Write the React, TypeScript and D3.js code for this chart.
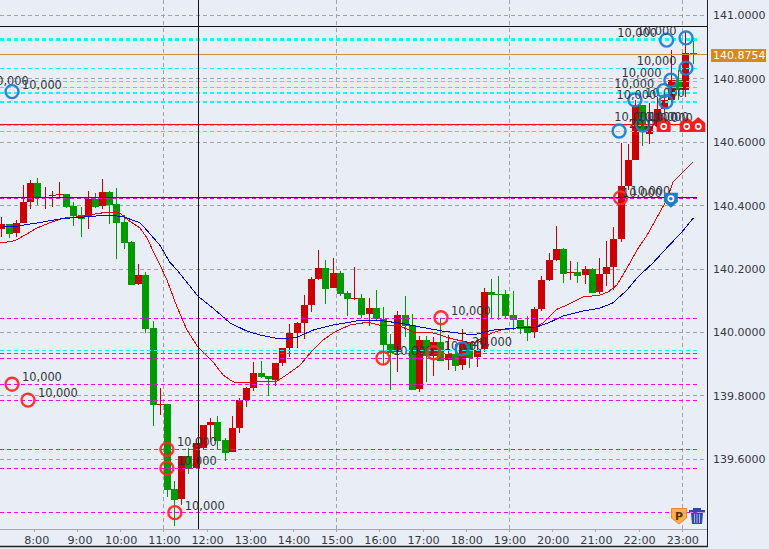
import React from "react";
import * as d3 from "d3";

const opens = [
  140.329,140.344,140.315,140.347,140.414,140.473,140.427,140.432,140.435,140.438,
  140.400,140.372,140.365,140.423,140.401,140.444,140.406,140.350,140.287,140.155,
  140.183,140.017,139.774,139.778,139.510,139.479,139.614,139.576,139.639,139.712,
  139.721,139.664,139.627,139.702,139.790,139.828,139.875,139.866,139.853,139.907,
  139.954,140.001,140.032,140.089,140.171,140.205,140.142,140.190,140.127,140.108,
  140.111,140.061,140.079,140.045,139.966,139.941,140.057,140.026,139.825,139.979,
  139.929,139.973,139.916,139.935,139.900,139.973,139.925,139.950,140.130,140.124,
  140.124,140.057,140.042,140.023,140.004,140.076,140.168,140.230,140.265,140.190,
  140.193,140.183,140.202,140.130,140.186,140.208,140.296,140.463,140.545,140.718,
  140.627,140.652,140.705,140.734,140.796,140.765,140.881,
];
const highs = [
  140.367,140.344,140.356,140.466,140.482,140.488,140.460,140.447,140.476,140.438,
  140.413,140.397,140.447,140.441,140.485,140.447,140.457,140.372,140.290,140.218,
  140.193,140.039,139.828,139.778,139.535,139.614,139.639,139.668,139.712,139.734,
  139.740,139.671,139.740,139.796,139.831,139.910,139.913,139.866,139.907,139.954,
  140.029,140.035,140.120,140.177,140.262,140.230,140.237,140.196,140.133,140.208,
  140.124,140.111,140.136,140.083,139.998,140.070,140.117,140.061,139.991,139.991,
  139.988,140.048,139.995,139.966,140.013,139.973,139.979,140.142,140.171,140.180,
  140.136,140.133,140.042,140.054,140.083,140.180,140.252,140.337,140.268,140.227,
  140.224,140.212,140.205,140.237,140.290,140.334,140.598,140.595,140.734,140.718,
  140.724,140.743,140.756,140.891,140.828,140.947,140.922,
];
const lows = [
  140.304,140.301,140.303,140.347,140.392,140.404,140.392,140.398,140.429,140.394,
  140.337,140.303,140.328,140.394,140.391,140.344,140.234,140.265,140.152,140.152,
  140.001,139.708,139.743,139.485,139.394,139.460,139.557,139.573,139.636,139.658,
  139.633,139.598,139.627,139.686,139.768,139.818,139.859,139.803,139.834,139.897,
  139.925,139.954,139.982,140.067,140.168,140.092,140.142,140.117,140.054,140.105,
  140.048,140.023,140.039,139.903,139.822,139.878,139.988,139.822,139.815,139.847,
  139.866,139.913,139.885,139.881,139.885,139.891,139.894,139.941,140.045,140.042,
  140.045,140.010,139.998,139.976,139.985,140.070,140.164,140.227,140.158,140.168,
  140.158,140.155,140.127,140.124,140.149,140.136,140.287,140.451,140.545,140.589,
  140.595,140.652,140.693,140.724,140.734,140.743,140.847,
];
const closes = [
  140.344,140.313,140.347,140.413,140.473,140.425,140.430,140.435,140.438,140.398,
  140.369,140.360,140.423,140.398,140.444,140.403,140.347,140.284,140.152,140.183,
  140.013,139.775,139.778,139.507,139.476,139.614,139.574,139.655,139.712,139.721,
  139.661,139.623,139.702,139.790,139.828,139.875,139.862,139.856,139.907,139.954,
  140.001,140.032,140.089,140.171,140.205,140.139,140.190,140.124,140.108,140.111,
  140.057,140.079,140.045,139.963,139.938,140.057,140.023,139.822,139.979,139.929,
  139.973,139.913,139.935,139.897,139.973,139.922,139.947,140.130,140.120,140.120,
  140.054,140.042,140.013,140.001,140.076,140.168,140.230,140.265,140.186,140.193,
  140.180,140.202,140.127,140.186,140.208,140.296,140.463,140.545,140.718,140.633,
  140.652,140.705,140.734,140.796,140.765,140.881,140.875,
];

const fastBars = [-0.18,1.9,3.3,4.96,6.76,8.57,10.93,13,14.68,16.49,17.6,19.26,20.24,21.35,22.04,23,24.4,25.8,27.3,29.4,30.8,32.2,34.1,35.9,38.3,39.8,41.5,42.9,44.7,46.3,48.4,50.9,53,55.4,57.2,60,62.7,65.5,67.5,69.3,72,74.1,75.2,77.2,78.6,80.8,83.1,84.3,85.5,86.9,88.3,89.7,91.1,92.4,93.3,96.1];
const fastMA = [140.284,140.291,140.309,140.331,140.348,140.362,140.367,140.375,140.381,140.378,140.356,140.331,140.300,140.246,140.215,140.168,140.083,140.010,139.957,139.910,139.869,139.847,139.844,139.848,139.850,139.872,139.900,139.938,139.979,140.004,140.026,140.035,140.023,140.023,140.004,140.001,139.982,139.969,139.995,140.010,140.018,140.020,140.032,140.076,140.089,140.114,140.120,140.130,140.152,140.205,140.262,140.309,140.366,140.419,140.476,140.539];
const slowBars = [-0.18,1.6,3,5.8,7.9,9.8,12.3,14.7,16.9,19.3,20.4,22,23.4,24.4,27.3,29.4,31.8,34.1,35.9,38.7,41.1,43.3,46.1,49.4,53,55.4,58.1,61.3,65.5,68.3,71.6,74.4,76.2,78,80.8,83.1,84.9,86.9,88.4,90.5,92.4,94.5,96.1];
const slowMA = [140.334,140.335,140.340,140.350,140.359,140.363,140.367,140.372,140.367,140.347,140.319,140.278,140.224,140.199,140.117,140.079,140.032,140.007,139.995,139.982,139.988,140.010,140.026,140.039,140.039,140.032,140.020,140.007,139.995,140.010,140.017,140.020,140.035,140.054,140.070,140.079,140.095,140.136,140.177,140.221,140.268,140.318,140.362];

const priceTicks = [141, 140.8, 140.6, 140.4, 140.2, 140, 139.8, 139.6];
const hourTicks = [8,9,10,11,12,13,14,15,16,17,18,19,20,21,22,23];
const gridHours = [11,15,19,23];

const cyanThin = [140.833,140.793,140.773,140.653,140.635,139.947];
const cyanThick = [140.927,140.921,140.756,140.727];
const magentaLines = [140.424,140.046,139.936,139.922,139.840,139.790,139.635,139.576,139.436];
const redLevel = 140.656;
const purpleLevel = 140.426;
const currentPrice = 140.8754;
const blackLevel = 140.966;
const crossHour = 11.80;

const blueBars = [1.49,88,89.1,85.8,92,92.3,92.4,93,95.1,95.1,64];
const bluePrices = [140.760,140.734,140.655,140.636,140.763,140.728,140.922,140.796,140.929,140.834,139.951];
const blueLabels = ["10,000","10,000","10,000","20,000","10,000","10,000","10,000","10,000","10,000","10,000","20,000"];
const blueFlip = [false,false,false,false,true,true,true,true,true,true,false];
const redBars = [1.49,3.71,23,23,24.1,61.07,53,60.06,86];
const redPrices = [139.840,139.790,139.635,139.576,139.436,140.049,139.922,139.939,140.426];
const redLabels = ["10,000","10,000","10,000","10,000","10,000","10,000","10,000","10,000","10,000"];
const houseBars = [92,95.2,96.8];
const housePrice = 140.655;
const shieldBar = 93;
const shieldPrice = 140.42;
const ghostBar = -3.1;
const ghostPrice = 140.771;

const W = 769, H = 549, R = 707, AX = 529;
const BG = "#e9edf5", GREEN = "#009900", RED = "#cc0000", GRID = "#a3a3a3";
const FONT = "'DejaVu Sans', sans-serif";

const y = d3.scaleLinear().domain([141, 139.6]).range([15.3, 460.5]);
const yAxis = d3.scaleLinear().domain([141, 139.6]).range([15.3, 459.3]);
const xb = d3.scaleLinear().domain([0, 96]).range([1.3, 692.5]);
const xh = d3.scaleLinear().domain([8, 23]).range([34.3, 682.3]);
const X_END = xb(96.6);
const snap = (v: number) => Math.floor(v) + 0.5;

const lineGen = d3.line<[number, number]>().x(d => xb(d[0])).y(d => y(d[1]));
const zip = (a: number[], b: number[]) => a.map((v, i) => [v, b[i]] as [number, number]);

function HLine({ p, color, width = 1, dash, end = X_END }: { p: number; color: string; width?: number; dash?: string; end?: number }) {
  const yy = width % 2 ? snap(y(p)) : Math.round(y(p));
  return <line x1={0} x2={end} y1={yy} y2={yy} stroke={color} strokeWidth={width} strokeDasharray={dash} shapeRendering="crispEdges" />;
}

function Marker({ bar, p, color, label, flip }: { bar: number; p: number; color: string; label: string; flip?: boolean }) {
  const cx = xb(bar), cy = y(p);
  return (
    <g>
      <circle cx={cx} cy={cy} r={6.5} fill="none" stroke={color} strokeWidth={2.4} opacity={0.95} />
      <text x={flip ? cx - 9.5 : cx + 10} y={cy - 3} textAnchor={flip ? "end" : "start"} fontSize={11.4} fontFamily={FONT} fill="#30343c">{label}</text>
    </g>
  );
}

export default function App() {
  return (
    <svg width={W} height={H} style={{ position: "fixed", left: 0, top: 0, background: BG, display: "block" }}>
      <rect width={W} height={H} fill={BG} />
      {priceTicks.map(t => <line key={t} x1={0} x2={R} y1={snap(yAxis(t))} y2={snap(yAxis(t))} stroke={GRID} strokeDasharray="4 3" shapeRendering="crispEdges" />)}
      {gridHours.map(h => <line key={h} x1={snap(xh(h))} x2={snap(xh(h))} y1={0} y2={AX} stroke={GRID} strokeDasharray="4 3" shapeRendering="crispEdges" />)}

      {opens.map((o, i) => {
        const c = closes[i], col = c >= o ? RED : GREEN;
        const cx = Math.round(xb(i));
        const top = Math.round(y(Math.max(o, c))), bot = Math.round(y(Math.min(o, c)));
        return (
          <g key={i} shapeRendering="crispEdges">
            <line x1={cx + 0.5} x2={cx + 0.5} y1={y(highs[i])} y2={y(lows[i])} stroke={col} />
            <rect x={cx - 3} y={top} width={7} height={Math.max(1, bot - top)} fill={col} />
          </g>
        );
      })}

      <path d={lineGen(zip(fastBars, fastMA)) || ""} fill="none" stroke="#f00000" shapeRendering="crispEdges" />
      <path d={lineGen(zip(slowBars, slowMA)) || ""} fill="none" stroke="#0000e0" shapeRendering="crispEdges" />

      {magentaLines.map(p => <HLine key={p} p={p} color="#ff00ff" dash="4 3" />)}
      {cyanThin.map(p => <HLine key={p} p={p} color="#00ffff" dash="4 3" />)}
      {cyanThick.map(p => <HLine key={p} p={p} color="#00ffff" width={2} dash="4 3" />)}
      <HLine p={redLevel} color="#ff0000" />
      <HLine p={purpleLevel} color="#3c00c8" width={1} />
      <HLine p={currentPrice} color="#c89040" end={R} />
      <HLine p={blackLevel} color="#111111" end={R} />
      <line x1={snap(xh(crossHour))} x2={snap(xh(crossHour))} y1={0} y2={AX} stroke="#111111" shapeRendering="crispEdges" />

      <line x1={0} x2={R} y1={AX + 0.5} y2={AX + 0.5} stroke="#a8a8a8" strokeWidth={1} />
      {hourTicks.map(h => (
        <g key={h}>
          <line x1={snap(xh(h))} x2={snap(xh(h))} y1={AX} y2={AX + 3} stroke="#a8a8a8" />
          <text x={xh(h) + (h < 10 ? 2.5 : 0.5)} y={544} textAnchor="middle" fontSize={11.2} fontFamily={FONT} fill="#333a44">{h}:00</text>
        </g>
      ))}
      <line x1={R + 0.5} x2={R + 0.5} y1={0} y2={547} stroke="#222" strokeWidth={1} />
      <line x1={0} x2={R + 1} y1={546.5} y2={546.5} stroke="#222" strokeWidth={1.4} />

      {priceTicks.map(t => (
        <text key={t} x={713} y={yAxis(t) + 4} fontSize={11} fontFamily={FONT} fill="#333a44">{t.toFixed(4)}</text>
      ))}
      <rect x={711} y={49} width={55} height={13} fill="#d8881c" />
      <text x={713} y={y(currentPrice) + 4} fontSize={11} fontFamily={FONT} fill="#ffffff">{currentPrice.toFixed(4)}</text>

      <text x={xb(ghostBar) + 10} y={y(ghostPrice) - 3} fontSize={11.4} fontFamily={FONT} fill="#30343c">10,000</text>

      {redBars.map((b, i) => <Marker key={i} bar={b} p={redPrices[i]} color="#ff2a2a" label={redLabels[i]} />)}
      {blueBars.map((b, i) => <Marker key={i} bar={b} p={bluePrices[i]} color="#1e80d2" label={blueLabels[i]} flip={blueFlip[i]} />)}

      {houseBars.map(b => {
        const cx = xb(b), cy = y(housePrice);
        return (
          <g key={b} transform={`translate(${cx},${cy})`}>
            <path d="M0,-8 L7,-2 L7,7 L-7,7 L-7,-2 Z" fill="#ff1c1c" />
            <circle cx={0} cy={1.5} r={2.6} fill="#ff1c1c" stroke="#ffffff" strokeWidth={1.6} />
            <text x={-9.5} y={-4.5} textAnchor="end" fontSize={11.4} fontFamily={FONT} fill="#30343c">10,000</text>
          </g>
        );
      })}
      <g transform={`translate(${xb(shieldBar)},${y(shieldPrice)})`}>
        <path d="M-7,-7 L7,-7 L7,2 L0,8 L-7,2 Z" fill="#1a7fc8" />
        <circle cx={0} cy={-1} r={2.6} fill="#1a7fc8" stroke="#ffffff" strokeWidth={1.6} />
        <text x={-9} y={-3} textAnchor="end" fontSize={11.4} fontFamily={FONT} fill="#30343c">10,000</text>
      </g>

      <g transform="translate(679,516)">
        <path d="M-7.5,-7.5 L7.5,-7.5 L7.5,2 L0,8 L-7.5,2 Z" fill="#fdb04a" stroke="#f0803a" strokeWidth={1} />
        <text x={0} y={3.5} textAnchor="middle" fontSize={11} fontWeight="bold" fontFamily={FONT} fill="#5a2c00">P</text>
      </g>
      <g fill="#3346ac">
        <rect x={689} y={510} width={16} height={2.4} />
        <rect x={693} y={508} width={8} height={2} />
        <path d="M691,513 L703,513 L702,524 L692,524 Z" />
        <g stroke="#c8d0f0" strokeWidth={0.8}>
          <line x1={694.5} x2={694.5} y1={514} y2={523} />
          <line x1={697} x2={697} y1={514} y2={523} />
          <line x1={699.5} x2={699.5} y1={514} y2={523} />
        </g>
      </g>
    </svg>
  );
}
